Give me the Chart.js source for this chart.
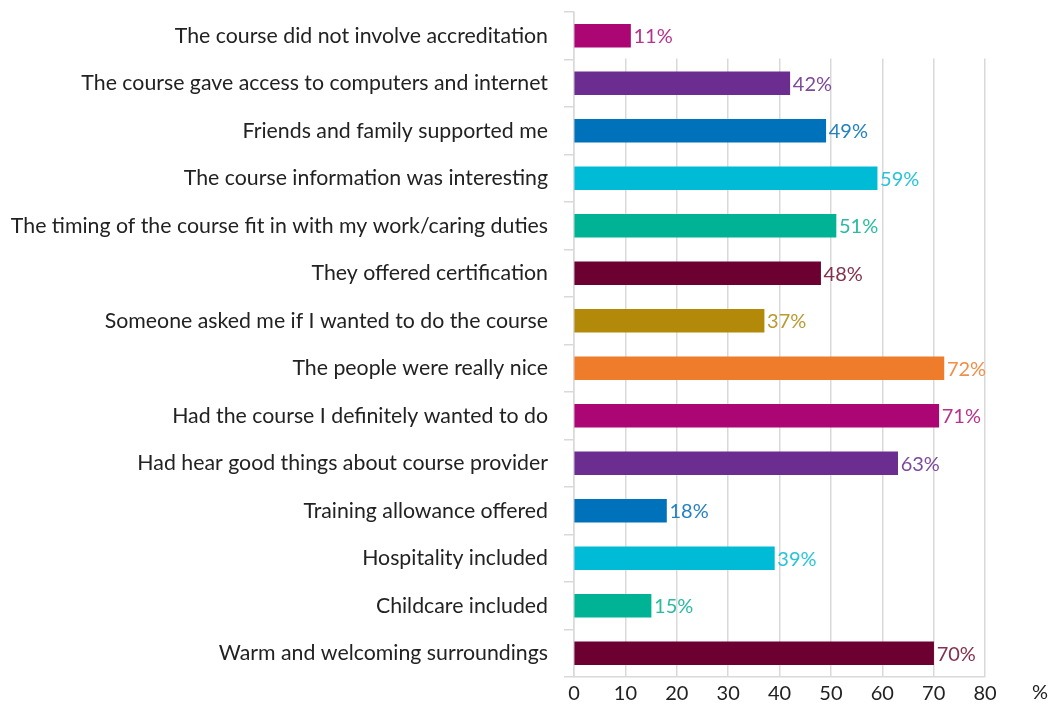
<!DOCTYPE html>
<html>
<head>
<meta charset="utf-8">
<script src="https://cdn.jsdelivr.net/npm/chart.js@4/dist/chart.umd.min.js"></script>
<style>
  html, body { margin: 0; padding: 0; background: #fff; }
  #wrap { width: 1054px; height: 704px; }
</style>
</head>
<body>
<div id="wrap"><canvas id="myChart"></canvas></div>
<script>
const categories = [
    "The course did not involve accreditation",
    "The course gave access to computers and internet",
    "Friends and family supported me",
    "The course information was interesting",
    "The timing of the course fit in with my work/caring duties",
    "They offered certification",
    "Someone asked me if I wanted to do the course",
    "The people were really nice",
    "Had the course I definitely wanted to do",
    "Had hear good things about course provider",
    "Training allowance offered",
    "Hospitality included",
    "Childcare included",
    "Warm and welcoming surroundings"
];

const values = [11, 42, 49, 59, 51, 48, 37, 72, 71, 63, 18, 39, 15, 70];

const barColors = [
    "#ab0673", "#6b2d8f", "#0072bb", "#00bbd5", "#00b394", "#6c0030", "#b3890a",
    "#ee7c2b", "#ab0673", "#6b2d8f", "#0072bb", "#00bbd5", "#00b394", "#6c0030"
];

const labelColors = [
    "#b5338a", "#7d4a9c", "#2582c2", "#29c4d9", "#2abba2", "#84304f", "#bb9a32",
    "#f08e4a", "#b5338a", "#7d4a9c", "#2582c2", "#29c4d9", "#2abba2", "#84304f"
];

const xTicks = [0, 10, 20, 30, 40, 50, 60, 70, 80];

const fontFamily = "Lato, 'Open Sans', sans-serif";

// in the original the vertical grid lines stop at the first category row
const hideTopGrid = {
    id: 'hideTopGrid',
    beforeDatasetsDraw(chart) {
        const ctx = chart.ctx;
        const area = chart.chartArea;
        const y = chart.scales.y;
        const edge = (y.getPixelForValue(0) + y.getPixelForValue(1)) / 2 - 1;
        ctx.save();
        ctx.fillStyle = "#fff";
        ctx.fillRect(area.left + 1, area.top - 2, area.right - area.left + 4, edge - area.top + 2);
        ctx.restore();
    }
};

// value labels at the end of each bar
const barLabels = {
    id: 'barLabels',
    afterDatasetsDraw(chart) {
        const ctx = chart.ctx;
        const meta = chart.getDatasetMeta(0);
        ctx.save();
        ctx.font = "20px " + fontFamily;
        ctx.textAlign = 'left';
        ctx.textBaseline = 'middle';
        meta.data.forEach((bar, i) => {
            ctx.fillStyle = labelColors[i];
            ctx.fillText(values[i] + "%", bar.x + 3, bar.y + 1);
        });
        ctx.restore();
    }
};

// the "%" unit at the far right of the x axis
const unitLabel = {
    id: 'unitLabel',
    afterDraw(chart) {
        const ctx = chart.ctx;
        const x = chart.scales.x;
        ctx.save();
        ctx.font = "20px " + fontFamily;
        ctx.fillStyle = "#222";
        ctx.textAlign = 'center';
        ctx.textBaseline = 'middle';
        ctx.fillText("%", x.right + 55, x.top + 16);
        ctx.restore();
    }
};

const ctx = document.getElementById('myChart');

new Chart(ctx, {
    type: 'bar',
    data: {
        labels: categories,
        datasets: [{
            data: values,
            backgroundColor: barColors,
            barThickness: 23,
        }]
    },
    options: {
        indexAxis: 'y',
        responsive: true,
        maintainAspectRatio: false,
        animation: false,
        layout: { padding: { top: 12, right: 69, left: 0, bottom: 0 } },
        plugins: {
            legend: { display: false },
            tooltip: { enabled: false },
        },
        scales: {
            x: {
                min: 0,
                max: 80,
                afterBuildTicks(axis) {
                    axis.ticks = xTicks.map(v => ({ value: v }));
                },
                afterFit(axis) {
                    axis.height = 27;
                    axis.paddingLeft = 0;
                    axis.paddingRight = 0;
                },
                grid: {
                    color: "#d9d9d9",
                    lineWidth: 1.5,
                    drawTicks: false,
                },
                border: { display: true, color: "#d9d9d9", width: 1.5 },
                ticks: {
                    color: "#222",
                    padding: 5,
                    font: { family: fontFamily, size: 20 },
                },
            },
            y: {
                afterFit(axis) {
                    axis.width = 574;
                    axis.paddingTop = 0;
                    axis.paddingBottom = 0;
                },
                grid: {
                    offset: true,
                    drawOnChartArea: false,
                    drawTicks: true,
                    tickLength: 10,
                    color: "#d9d9d9",
                    lineWidth: 1.5,
                },
                border: { display: true, color: "#d9d9d9", width: 1.5 },
                ticks: {
                    color: "#222",
                    padding: 16,
                    autoSkip: false,
                    font: { family: fontFamily, size: 21.3 },
                },
            }
        }
    },
    plugins: [hideTopGrid, barLabels, unitLabel]
});
</script>
</body>
</html>
